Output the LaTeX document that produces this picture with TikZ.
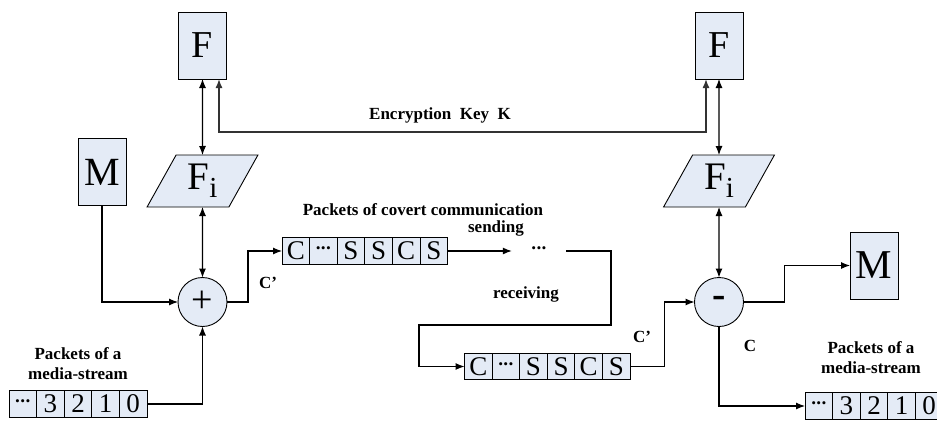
\documentclass[tikz,border=0pt]{standalone}
\usepackage{fontspec}
\setmainfont{Liberation Serif}
\usetikzlibrary{arrows.meta,positioning,shapes.geometric}
\definecolor{boxfill}{RGB}{228,235,246}
\definecolor{keygray}{RGB}{50,50,50}
\newcommand\eldots{{\bfseries\fontsize{19}{19}\selectfont\raisebox{-1pt}{·\kern-1.2pt·\kern-1.2pt·}}}
\tikzset{
  box/.style={draw, fill=boxfill, line width=0.9pt, inner sep=0pt, outer sep=0pt},
  bigbox/.style={box, minimum width=48pt, minimum height=67pt, font=\fontsize{38}{38}\selectfont},
  cell/.style={box, minimum width=27.6pt, minimum height=26.5pt, font=\fontsize{27}{27}\selectfont},
  para/.style={box, trapezium, trapezium left angle=64, trapezium right angle=116,
    trapezium stretches=true, minimum width=111pt, minimum height=52pt,
    font=\fontsize{39}{39}\selectfont},
  op/.style={circle, draw, fill=boxfill, minimum size=49pt, inner sep=0pt, outer sep=0pt, line width=0.9pt},
  lbl/.style={font=\bfseries\fontsize{17}{20}\selectfont, align=center, inner sep=0pt},
  tip/.style={-{Latex[length=9pt,width=7pt]}},
  conn/.style={line width=1.1pt, tip},
  dconn/.style={line width=1.1pt, {Latex[length=9pt,width=7pt]}-{Latex[length=9pt,width=7pt]}},
}
\newcommand\Fsub{F\raisebox{-8pt}{\fontsize{29}{29}\selectfont i}}
\begin{document}
\begin{tikzpicture}[x=1pt,y=-1pt]
\useasboundingbox[fill=white] (0,0) rectangle (937,421);

% top F boxes
\node[bigbox] (F1) at (202.5,45.5) {F};
\node[bigbox] (F2) at (719,45.5) {F};
% Fi parallelograms
\node[para] (Fi1) at (202.5,181) {\Fsub};
\node[para] (Fi2) at (719,181) {\Fsub};
% M boxes
\node[bigbox, font=\fontsize{40}{40}\selectfont] (M1) at (102,172) {M};
\node[bigbox, font=\fontsize{41}{41}\selectfont] (M2) at (874,265.5) {M};
% operators
\node[op, font=\fontsize{38}{38}\selectfont] (plus) at (202.5,302) {+};
\node[op, font=\bfseries\fontsize{40}{40}\selectfont] (minus) at (719,302) {-};

% left media stream
\node[cell] (a1) at (22.8,404) {\eldots};
\node[cell, right=0pt of a1] (a2) {3};
\node[cell, right=0pt of a2] (a3) {2};
\node[cell, right=0pt of a3] (a4) {1};
\node[cell, right=0pt of a4] (a5) {0};

% upper packets
\node[cell] (p1a) at (295.8,251) {C};
\node[cell, right=0pt of p1a] (p1b) {\eldots};
\node[cell, right=0pt of p1b] (p1c) {S};
\node[cell, right=0pt of p1c] (p1d) {S};
\node[cell, right=0pt of p1d] (p1e) {C};
\node[cell, right=0pt of p1e] (p1f) {S};

% lower packets
\node[cell] (p2a) at (478.3,366.5) {C};
\node[cell, right=0pt of p2a] (p2b) {\eldots};
\node[cell, right=0pt of p2b] (p2c) {S};
\node[cell, right=0pt of p2c] (p2d) {S};
\node[cell, right=0pt of p2d] (p2e) {C};
\node[cell, right=0pt of p2e] (p2f) {S};

% right media stream
\node[cell] (b1) at (818.8,406) {\eldots};
\node[cell, right=0pt of b1] (b2) {3};
\node[cell, right=0pt of b2] (b3) {2};
\node[cell, right=0pt of b3] (b4) {1};
\node[cell, right=0pt of b4] (b5) {0};

% channel dots
\node[inner sep=0pt, minimum width=54pt, minimum height=10pt] (dots) at (539,251) {\eldots};
\coordinate (lr) at (611,325);
\coordinate (ll) at (419,325);
\coordinate (key) at (460,132);

% labels
\node[lbl] (lkey) at (440,115) {Encryption\ \ Key\ \ K};
\node[lbl] (lpc) at (423,210) {Packets of covert communication};
\node[lbl] (lsend) at (496,228) {sending};
\node[lbl] (lrecv) at (526,294) {receiving};
\node[lbl] (lc1) at (268,283) {C’};
\node[lbl] (lc2) at (642,337) {C’};
\node[lbl] (lc3) at (750,346) {C};
\node[lbl] (lms1) at (78,363.5) {Packets of a\\media-stream};
\node[lbl] (lms2) at (871,358) {Packets of a\\media-stream};

% connectors
\draw[dconn] (F1.south) -- (Fi1.north);
\draw[dconn] (F2.south) -- (Fi2.north);
\draw[dconn, line width=1.4pt, draw=keygray] ([xshift=16.5pt]F1.south) |- (key) -| ([xshift=-13pt]F2.south);
\draw[conn] (M1.south) |- (plus.west);
\draw[dconn] (Fi1.south) -- (plus.north);
\draw[conn] (a5.east) -| (plus.south);
\draw[conn] (plus.east) -- ++(21,0) |- (p1a.west);
\draw[conn] (p1f.east) -- (dots.west);
\draw[conn] (dots.east) -| (lr) -- (ll) |- (p2a.west);
\draw[conn] (p2f.east) -- ++(34,0) |- (minus.west);
\draw[dconn] (Fi2.south) -- (minus.north);
\draw[conn] (minus.east) -- ++(41,0) |- (M2.west);
\draw[conn] (minus.south) |- (b1.west);
\end{tikzpicture}
\end{document}
